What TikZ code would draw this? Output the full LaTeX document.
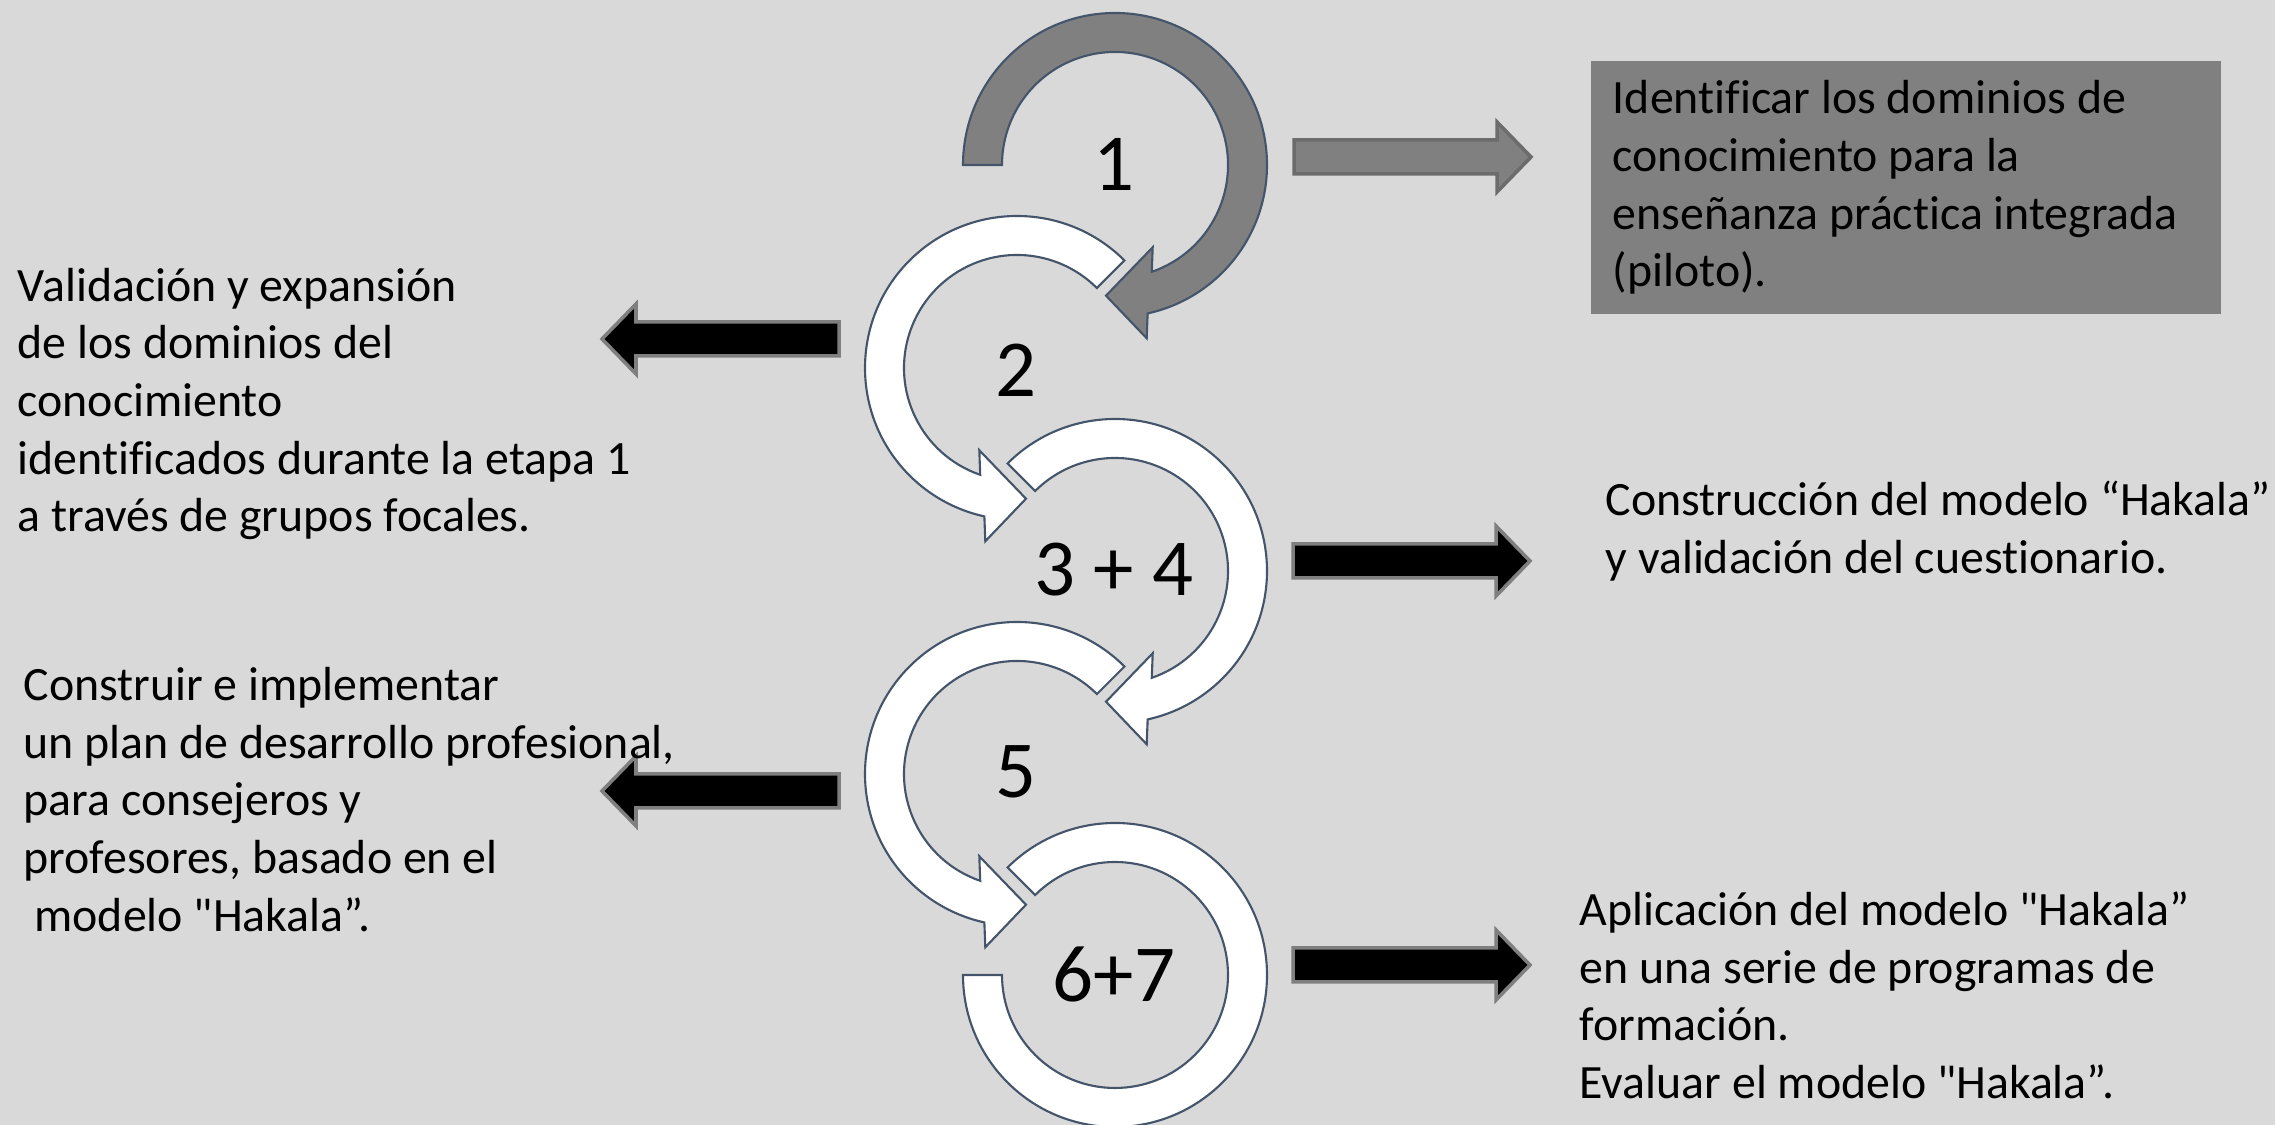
\documentclass[tikz,border=0pt]{standalone}
\usepackage{fontspec}
\setmainfont{Carlito}[Ligatures={TeXOff,NoCommon}]
\usetikzlibrary{positioning}

\definecolor{slidebg}{HTML}{D9D9D9}
\definecolor{stepgray}{HTML}{808080}
\definecolor{ringline}{HTML}{44546A}
\definecolor{arrowline}{HTML}{7F7F7F}

\begin{document}
\begin{tikzpicture}[x=0.01cm, y=0.01cm,
ring/.style={draw=ringline, line width=0.6pt},
blockarrow/.style={draw=arrowline, line width=1pt, fill=black},
desc/.style={align=left, anchor=west, inner sep=0pt, font=\fontsize{13.6}{16.4}\selectfont},
descbox/.style={desc, anchor=center, align=flush left, fill=stepgray, text width=5.86cm, inner xsep=0.22cm, minimum height=2.53cm},
stepnum/.style={font=\fontsize{23}{27}\selectfont},
pics/ringarrow/.style={code={
  \path[pic actions] (#1:152) arc[start angle=#1, end angle=-77.6, radius=152]
    -- (31.7,-173.3) -- (-9,-130.7) -- (37.7,-82.3)
    -- (-71:113) arc[start angle=-71, end angle=#1, radius=113] -- cycle;
}},
pics/rightarrow/.style={code={
  \path[pic actions] (0,-17) -- (203,-17) -- (203,-35) -- (237,0)
    -- (203,35) -- (203,17) -- (0,17) -- cycle;
}},
]
\useasboundingbox (0,0) rectangle (2275,1125);
\fill[slidebg] (0,0) rectangle (2275,1125);

% ring arrows, top to bottom
\pic[ring, fill=stepgray] at (1115,960) {ringarrow=180};
\pic[ring, fill=white, xscale=-1] at (1017,757) {ringarrow=135};
\pic[ring, fill=white] at (1115,554) {ringarrow=135};
\pic[ring, fill=white, xscale=-1] at (1017,351) {ringarrow=135};
\draw[ring, fill=white, shift={(1115,150)}] (180:152) arc[start angle=180, end angle=495, radius=152]
  -- (135:113) arc[start angle=135, end angle=-180, radius=113] -- cycle;

\node[stepnum] (n1) at (1114,961) {1};
\node[stepnum] (n2) at (1016,755) {2};
\node[stepnum] (n34) at (1114,555) {3 + 4};
\node[stepnum] (n5) at (1016,353) {5};
\node[stepnum] (n67) at (1114,150) {6+7};

% block arrows
\coordinate (a1) at (1294,968);
\coordinate (a2) at (839,786);
\coordinate (a3) at (1293,564);
\coordinate (a5) at (839,334);
\coordinate (a67) at (1293,160);
\pic[blockarrow, fill=stepgray, draw=gray!85!black] at (a1) {rightarrow};
\pic[blockarrow, xscale=-1] at (a2) {rightarrow};
\pic[blockarrow] at (a3) {rightarrow};
\pic[blockarrow, xscale=-1] at (a5) {rightarrow};
\pic[blockarrow] at (a67) {rightarrow};

% descriptions
\node[descbox] (identificar) at (1906,937.5) {Identificar los dominios de\\conocimiento para la\\enseñanza práctica integrada\\(piloto).};
\node[desc] (validacion) at (17,721) {Validación y expansión\\de los dominios del\\conocimiento\\identificados durante la etapa 1\\a través de grupos focales.};
\node[desc] (construccion) at (1605,594) {Construcción del modelo “Hakala”\\y validación del cuestionario.};
\node[desc] (construir) at (23,325.5) {Construir e implementar\\un plan de desarrollo profesional,\\para consejeros y\\profesores, basado en el\\\ modelo "Hakala”.};
\node[desc] (aplicacion) at (1579,129.5) {Aplicación del modelo "Hakala”\\en una serie de programas de\\formación.\\Evaluar el modelo "Hakala”.};

\end{tikzpicture}
\end{document}
